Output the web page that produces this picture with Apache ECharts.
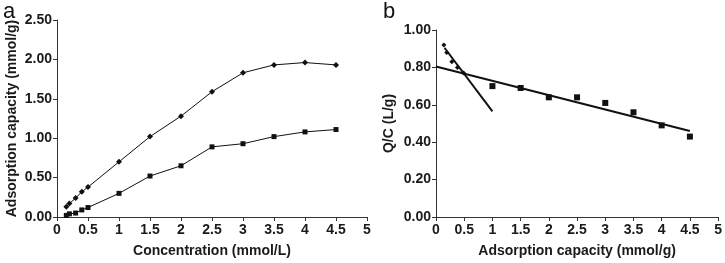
<!DOCTYPE html>
<html>
<head>
<meta charset="utf-8">
<script src="https://cdn.jsdelivr.net/npm/echarts@6/dist/echarts.min.js"></script>
<style>
  html, body { margin: 0; padding: 0; background: #fff; }
  #chart { width: 725px; height: 263px; }
</style>
</head>
<body>
<div id="chart"></div>
<script>
// panel a: adsorption capacity vs concentration
var concLevels = [0.15, 0.2, 0.3, 0.4, 0.5, 1, 1.5, 2, 2.5, 3, 3.5, 4, 4.5];
var capUpper = [0.13, 0.17, 0.24, 0.32, 0.38, 0.70, 1.02, 1.28, 1.59, 1.83, 1.93, 1.96, 1.93];
var capLower = [0.02, 0.04, 0.05, 0.09, 0.12, 0.30, 0.52, 0.65, 0.89, 0.93, 1.02, 1.08, 1.11];

// panel b: Q/C vs adsorption capacity
var qcUpperX = [0.14, 0.19, 0.28, 0.38, 0.49];
var qcUpperY = [0.92, 0.88, 0.83, 0.80, 0.77];
var qcLowerX = [1, 1.5, 2, 2.5, 3, 3.5, 4, 4.5];
var qcLowerY = [0.70, 0.69, 0.64, 0.64, 0.61, 0.56, 0.49, 0.43];
var fitSteep = [[0.15, 0.905], [1.0, 0.565]];
var fitShallow = [[0, 0.805], [4.5, 0.46]];

function pairs(xs, ys) {
    return xs.map(function (x, i) { return [x, ys[i]]; });
}

var myChart = echarts.init(document.getElementById('chart'));

var font = 'Liberation Sans, Arial, sans-serif';
var axisColor = '#333';
var labelStyle = { color: '#1a1a1a', fontSize: 14, fontWeight: 'bold', fontFamily: font };
var nameStyle = { color: '#1a1a1a', fontSize: 14, fontWeight: 'bold', fontFamily: font };

function xAxisCfg(gridIndex, name) {
    return {
        type: 'value', gridIndex: gridIndex, min: 0, max: 5, interval: 0.5,
        name: name, nameLocation: 'middle', nameGap: 27, nameTextStyle: nameStyle,
        axisLine: { show: true, onZero: false, lineStyle: { color: axisColor, width: 1 } },
        axisTick: { show: true, length: 4, lineStyle: { color: axisColor } },
        axisLabel: Object.assign({ margin: 6 }, labelStyle),
        splitLine: { show: false }
    };
}

function yAxisCfg(gridIndex, name, max, interval, gap) {
    return {
        type: 'value', gridIndex: gridIndex, min: 0, max: max, interval: interval,
        name: name, nameLocation: 'middle', nameGap: gap, nameTextStyle: nameStyle,
        axisLine: { show: true, lineStyle: { color: axisColor, width: 1 } },
        axisTick: { show: true, length: 4, lineStyle: { color: axisColor } },
        axisLabel: Object.assign({ margin: 5, formatter: function (v) { return v.toFixed(2); } }, labelStyle),
        splitLine: { show: false }
    };
}

var option = {
    animation: false,
    backgroundColor: '#fff',
    title: [
        { text: 'a', left: -2, top: -4, textStyle: { fontSize: 22, fontWeight: 'normal', color: '#111', fontFamily: font } },
        { text: 'b', left: 378, top: -4, textStyle: { fontSize: 22, fontWeight: 'normal', color: '#111', fontFamily: font } }
    ],
    grid: [
        { left: 57, top: 20, width: 310, height: 199 },
        { left: 436, top: 30, width: 284, height: 190 }
    ],
    xAxis: [
        xAxisCfg(0, 'Concentration (mmol/L)'),
        xAxisCfg(1, 'Adsorption capacity (mmol/g)')
    ],
    yAxis: [
        yAxisCfg(0, 'Adsorption capacity (mmol/g)', 2.5, 0.5, 38),
        yAxisCfg(1, 'Q/C (L/g)', 1.0, 0.2, 40)
    ],
    series: [
        {
            type: 'line', xAxisIndex: 0, yAxisIndex: 0,
            data: pairs(concLevels, capUpper),
            symbol: 'diamond', symbolSize: 6,
            lineStyle: { color: '#111', width: 1 },
            itemStyle: { color: '#111', opacity: 1 }
        },
        {
            type: 'line', xAxisIndex: 0, yAxisIndex: 0,
            data: pairs(concLevels, capLower),
            symbol: 'rect', symbolSize: 5,
            lineStyle: { color: '#111', width: 1 },
            itemStyle: { color: '#111', opacity: 1 }
        },
        {
            type: 'scatter', xAxisIndex: 1, yAxisIndex: 1,
            data: pairs(qcUpperX, qcUpperY),
            symbol: 'diamond', symbolSize: 5,
            itemStyle: { color: '#111', opacity: 1 }
        },
        {
            type: 'scatter', xAxisIndex: 1, yAxisIndex: 1,
            data: pairs(qcLowerX, qcLowerY),
            symbol: 'rect', symbolSize: 6,
            itemStyle: { color: '#111', opacity: 1 }
        },
        {
            type: 'line', xAxisIndex: 1, yAxisIndex: 1,
            data: fitSteep, symbol: 'none',
            lineStyle: { color: '#111', width: 2 }
        },
        {
            type: 'line', xAxisIndex: 1, yAxisIndex: 1,
            data: fitShallow, symbol: 'none',
            lineStyle: { color: '#111', width: 2 }
        }
    ]
};

myChart.setOption(option);
</script>
</body>
</html>
